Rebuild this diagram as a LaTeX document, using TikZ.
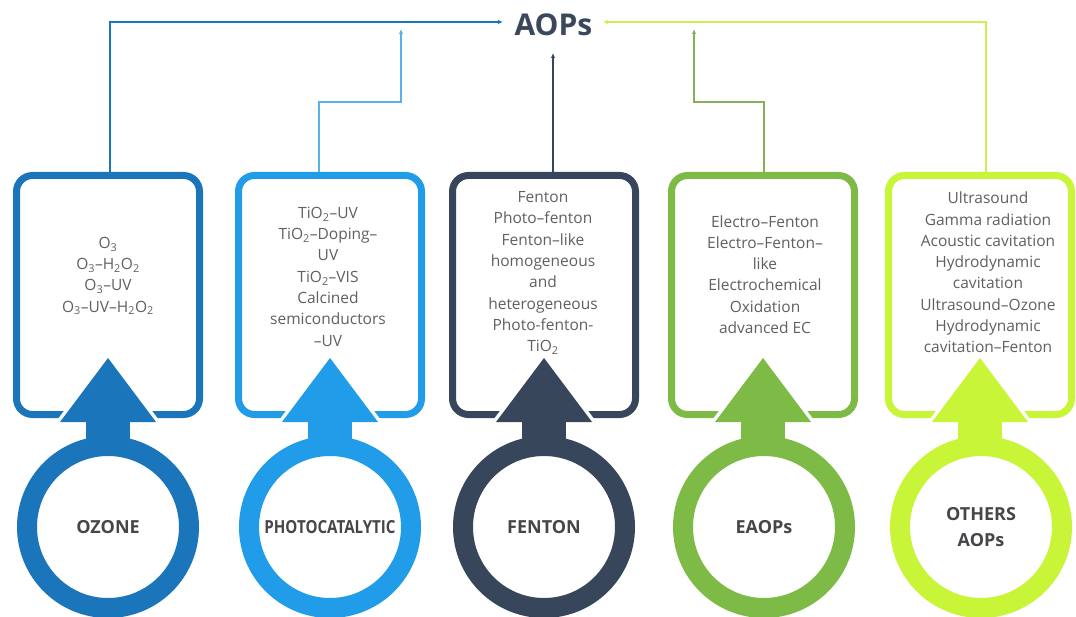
\documentclass[tikz,border=0pt]{standalone}
\usepackage{fontspec}
\setmainfont{Open Sans}
\usetikzlibrary{arrows.meta,calc}
\definecolor{cA}{RGB}{27,117,187}
\definecolor{cB}{RGB}{32,156,232}
\definecolor{cC}{RGB}{56,70,92}
\definecolor{cD}{RGB}{126,186,70}
\definecolor{cE}{RGB}{200,245,55}
\definecolor{lnB}{RGB}{90,176,232}
\definecolor{lnD}{RGB}{134,176,92}
\definecolor{lnE}{RGB}{204,240,80}
\definecolor{txt}{RGB}{96,96,96}
\definecolor{lab}{RGB}{70,70,74}
\definecolor{ttl}{RGB}{59,72,92}
\begin{document}
\begin{tikzpicture}[x=1pt,y=-1pt,
  ringnode/.style={circle, draw=#1, fill=white, line width=20pt, minimum size=162pt, inner sep=0pt,
     text=lab, font=\fontsize{18}{26}\selectfont\bfseries, align=center},
  boxtext/.style={text=txt, font=\fontsize{15.5}{21.3}\selectfont, align=center, inner sep=0pt},
  boxnode/.style={draw=none, minimum width=190pt, minimum height=246pt, inner sep=0pt},
  conn/.style={line width=1.8pt, -{Latex[length=5pt,width=4.5pt]}},
  thinconn/.style={line width=1.3pt, -{Latex[length=5pt,width=4.5pt]}}]
\useasboundingbox (0,0) rectangle (1076,617);
\fill[white] (0,0) rectangle (1076,617);

% frames and white cut-outs
\foreach \c/\col in {108/cA,330/cB,544/cC,763/cD,980/cE}{
  \draw[\col, line width=7pt, rounded corners=16pt]
    (\c-40,414.5) -- (\c-91.5,414.5) -- (\c-91.5,175.5) -- (\c+91.5,175.5) -- (\c+91.5,414.5) -- (\c+40,414.5);
  \draw[white, line width=7pt, line join=miter] (\c-48,422) -- (\c,358) -- (\c+48,422) -- cycle;
}

% invisible box nodes
\node[boxnode] (b1) at (108,295) {};
\node[boxnode] (b2) at (330,295) {};
\node[boxnode] (b3) at (544,295) {};
\node[boxnode] (b4) at (763,295) {};
\node[boxnode] (b5) at (980,295) {};

% rings
\node[ringnode=cA] (r1) at (108,527) {OZONE};
\node[ringnode=cB] (r2) at (330,527) {\scalebox{0.84}[1]{PHOTOCATALYTIC}};
\node[ringnode=cC] (r3) at (544,527) {FENTON};
\node[ringnode=cD] (r4) at (764,527) {EAOPs};
\node[ringnode=cE] (r5) at (981,527) {OTHERS\\AOPs};

% stems and arrow heads
\foreach \c/\col in {108/cA,330/cB,544/cC,763/cD,980/cE}{
  \fill[\col] (\c-22,418) rectangle (\c+22,446);
  \fill[\col] (\c-48,422) -- (\c,358) -- (\c+48,422) -- cycle;
}

% box texts
\node[boxtext] (t1) at (108,276) {O\textsubscript{3}\\O\textsubscript{3}–H\textsubscript{2}O\textsubscript{2}\\O\textsubscript{3}–UV\\O\textsubscript{3}–UV–H\textsubscript{2}O\textsubscript{2}};
\node[boxtext] (t2) at (328,276.5) {TiO\textsubscript{2}–UV\\TiO\textsubscript{2}–Doping–\\UV\\TiO\textsubscript{2}–VIS\\Calcined\\semiconductors\\–UV};
\node[boxtext] (t3) at (543,273) {Fenton\\Photo–fenton\\Fenton–like\\homogeneous\\and\\heterogeneous\\Photo-fenton-\\TiO\textsubscript{2}};
\node[boxtext] (t4) at (765,274.5) {Electro–Fenton\\Electro–Fenton–\\like\\Electrochemical\\Oxidation\\advanced EC};
\node[boxtext] (t5) at (988,272.5) {Ultrasound\\Gamma radiation\\Acoustic cavitation\\Hydrodynamic\\cavitation\\Ultrasound–Ozone\\Hydrodynamic\\cavitation–Fenton};

% title
\node[anchor=base, text=ttl, font=\fontsize{30}{36}\selectfont\bfseries, inner sep=0pt] (aops) at (553.5,36) {AOPs};

% connector end points
\coordinate (inL) at (503,22);
\coordinate (inR) at (603,22);
\coordinate (k2) at (401,102);
\coordinate (a2) at (401,29);
\coordinate (a3) at (553,53);
\coordinate (k4) at (694,102);
\coordinate (a4) at (694,29);

% connectors
\draw[conn, cA] ($(b1.north)+(2,0)$) |- (inL);
\draw[thinconn, lnB] ($(b2.north)+(-11,0)$) |- (k2) -- (a2);
\draw[conn, cC] ($(b3.north)+(9,0)$) -- (a3);
\draw[thinconn, lnD] ($(b4.north)+(1,0)$) |- (k4) -- (a4);
\draw[conn, lnE] ($(b5.north)+(6,0)$) |- (inR);
\end{tikzpicture}
\end{document}
